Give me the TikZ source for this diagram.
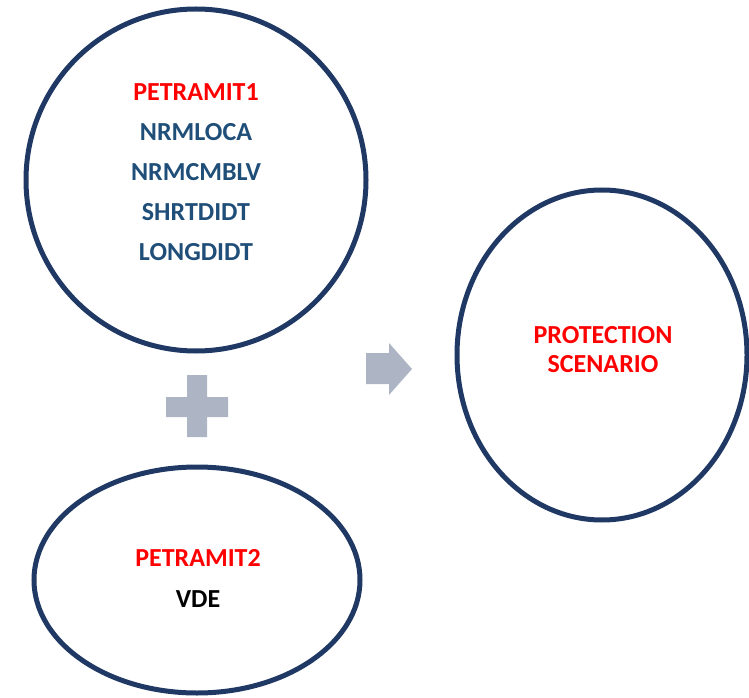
\documentclass[tikz,border=0pt]{standalone}
\usepackage{fontspec}
\setmainfont{Carlito}
\usetikzlibrary{shapes.geometric, positioning}

\definecolor{ringblue}{RGB}{31,56,100}
\definecolor{termblue}{RGB}{31,78,121}
\definecolor{signgray}{RGB}{173,181,197}

\begin{document}
\begin{tikzpicture}
	[x=0.75pt, y=-0.75pt,
	 ring/.style={ellipse, draw=ringblue, line width=3.75pt, inner sep=0pt},
	 term/.style={anchor=base, font=\fontsize{19.5}{20}\selectfont\bfseries},
	 sign/.style={fill=signgray, draw=none}]
   \useasboundingbox (0,0) rectangle (749,698);
   % the three rings
   \node[ring, minimum width=340pt*0.75, minimum height=342pt*0.75] (sets) at (196,180) {};
   \node[ring, minimum width=326pt*0.75, minimum height=226pt*0.75] (extra) at (197,580) {};
   \node[ring, minimum width=290pt*0.75, minimum height=330pt*0.75] (result) at (602,355) {};
   % texts
   \node[term, text=red] (pt1) at (196,101) {PETRAMIT1};
   \node[term, text=termblue] (loca) at (196,141) {NRMLOCA};
   \node[term, text=termblue] (cmblv) at (196,181) {NRMCMBLV};
   \node[term, text=termblue] (shrt) at (196,221) {SHRTDIDT};
   \node[term, text=termblue] (long) at (196,261) {LONGDIDT};
   \node[term, text=red] (pt2) at (198,566) {PETRAMIT2};
   \node[term, text=black] (vde) at (198,607) {VDE};
   \node[term, text=red] (prot) at (603,344) {PROTECTION};
   \node[term, text=red] (scen) at (603,373) {SCENARIO};
   % plus and arrow
   \fill[sign] (187,375) -- (207,375) -- (207,397) -- (228,397) -- (228,417) -- (207,417)
      -- (207,437) -- (187,437) -- (187,417) -- (166,417) -- (166,397) -- (187,397) -- cycle;
   \fill[sign] (366,353) -- (389,353) -- (389,343) -- (412,369) -- (389,395) -- (389,384)
      -- (366,384) -- cycle;
\end{tikzpicture}
\end{document}
